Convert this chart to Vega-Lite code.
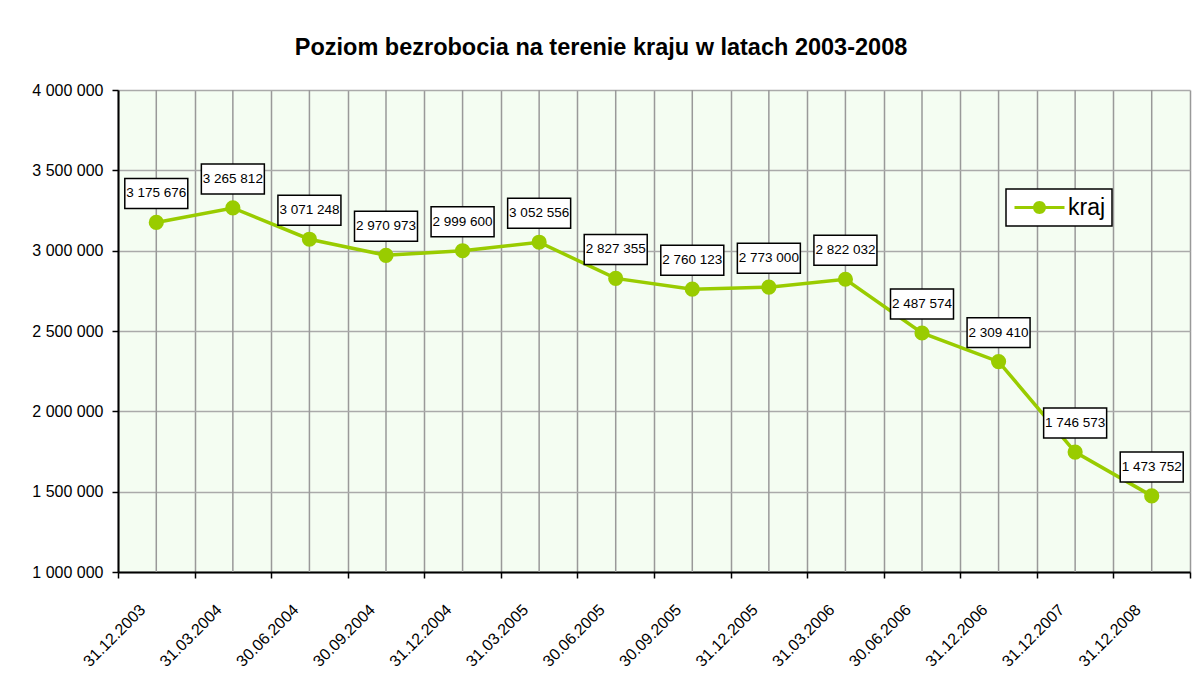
{
  "$schema": "https://vega.github.io/schema/vega-lite/v6.json",
  "width": 1072,
  "height": 482,
  "autosize": {"type": "none"},
  "padding": {"left": 118, "top": 90, "right": 2, "bottom": 120},
  "background": "white",
  "title": {
    "text": "Poziom bezrobocia na terenie kraju w latach 2003-2008",
    "font": "Liberation Sans",
    "fontSize": 23.5,
    "fontWeight": "bold",
    "color": "black",
    "anchor": "middle",
    "dx": -53,
    "dy": 34,
    "baseline": "alphabetic",
    "offset": 38
  },
  "config": {
    "locale": {"number": {"decimal": ",", "thousands": " ", "grouping": [3], "currency": ["", " zł"]}},
    "font": "Liberation Sans",
    "view": {"stroke": null, "fill": "#f4fdf2"}
  },
  "data": {
    "values": [
      {"data": "31.12.2003", "bezrobotni": 3175676, "seria": "kraj"},
      {"data": "31.03.2004", "bezrobotni": 3265812, "seria": "kraj"},
      {"data": "30.06.2004", "bezrobotni": 3071248, "seria": "kraj"},
      {"data": "30.09.2004", "bezrobotni": 2970973, "seria": "kraj"},
      {"data": "31.12.2004", "bezrobotni": 2999600, "seria": "kraj"},
      {"data": "31.03.2005", "bezrobotni": 3052556, "seria": "kraj"},
      {"data": "30.06.2005", "bezrobotni": 2827355, "seria": "kraj"},
      {"data": "30.09.2005", "bezrobotni": 2760123, "seria": "kraj"},
      {"data": "31.12.2005", "bezrobotni": 2773000, "seria": "kraj"},
      {"data": "31.03.2006", "bezrobotni": 2822032, "seria": "kraj"},
      {"data": "30.06.2006", "bezrobotni": 2487574, "seria": "kraj"},
      {"data": "31.12.2006", "bezrobotni": 2309410, "seria": "kraj"},
      {"data": "31.12.2007", "bezrobotni": 1746573, "seria": "kraj"},
      {"data": "31.12.2008", "bezrobotni": 1473752, "seria": "kraj"}
    ]
  },
  "encoding": {
    "x": {
      "field": "data",
      "type": "nominal",
      "sort": null,
      "scale": {"paddingInner": 0, "paddingOuter": 0},
      "axis": {
        "title": null,
        "tickBand": "extent",
        "grid": true,
        "gridColor": "#999999",
        "gridWidth": 1.5,
        "domainColor": "black",
        "domainWidth": 2,
        "tickColor": "black",
        "tickWidth": 1.5,
        "tickSize": 6,
        "labelAngle": -45,
        "labelAlign": "right",
        "labelBaseline": "middle",
        "labelOffset": -14,
        "labelPadding": 29,
        "labelFontSize": 16,
        "labelColor": "black",
        "labelFont": "Liberation Sans"
      }
    },
    "y": {
      "field": "bezrobotni",
      "type": "quantitative",
      "scale": {"domain": [1000000, 4000000], "nice": false, "zero": false},
      "axis": {
        "title": null,
        "values": [1000000, 1500000, 2000000, 2500000, 3000000, 3500000, 4000000],
        "format": ",d",
        "grid": true,
        "gridColor": "#aaaaaa",
        "gridWidth": 1.5,
        "domainColor": "black",
        "domainWidth": 2,
        "tickColor": "black",
        "tickWidth": 1.5,
        "tickSize": 6,
        "labelPadding": 9,
        "labelFontSize": 16,
        "labelColor": "black",
        "labelFont": "Liberation Sans"
      }
    }
  },
  "layer": [
    {
      "mark": {"type": "rule", "color": "#999999", "strokeWidth": 1.5},
      "encoding": {"y": null}
    },
    {
      "mark": {"type": "line", "strokeWidth": 3.5},
      "encoding": {
        "color": {
          "field": "seria",
          "type": "nominal",
          "scale": {"range": ["#99CC00"]},
          "legend": {
            "title": null,
            "orient": "none",
            "legendX": 888,
            "legendY": 99,
            "fillColor": "white",
            "strokeColor": "black",
            "padding": 6,
            "cornerRadius": 0,
            "symbolType": "M-2,-0.12H2V0.12H-2Z M0.52,0 A0.52,0.52 0 1,1 -0.52,0 A0.52,0.52 0 1,1 0.52,0Z",
            "symbolSize": 625,
            "symbolOffset": 15,
            "symbolStrokeWidth": 0,
            "symbolFillColor": "#99CC00",
            "labelFontSize": 23,
            "labelFont": "Liberation Sans",
            "labelColor": "black",
            "labelOffset": 16,
            "encode": {
              "symbols": {"update": {"fill": {"value": "#99CC00"}, "strokeWidth": {"value": 0}}},
              "legend": {"update": {"strokeWidth": {"value": 1.5}}}
            }
          }
        }
      }
    },
    {
      "mark": {"type": "point", "filled": true, "size": 230, "color": "#99CC00", "opacity": 1}
    },
    {
      "mark": {
        "type": "point",
        "shape": "M-1,-0.476H1V0.476H-1Z",
        "size": 3969,
        "filled": false,
        "fill": "white",
        "fillOpacity": 1,
        "stroke": "black",
        "strokeWidth": 1.5,
        "opacity": 1,
        "yOffset": -29
      }
    },
    {
      "mark": {"type": "text", "fontSize": 13.5, "font": "Liberation Sans", "color": "black", "yOffset": -29, "baseline": "middle", "align": "center"},
      "encoding": {"text": {"field": "bezrobotni", "type": "quantitative", "format": ",d"}}
    }
  ]
}
